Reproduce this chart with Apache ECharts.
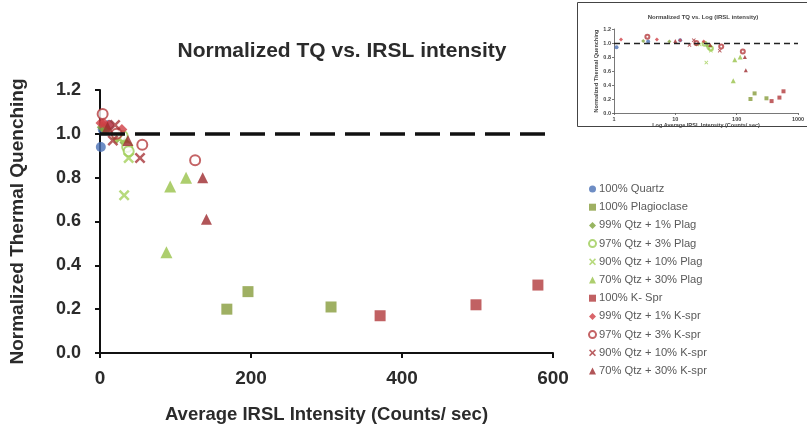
<!DOCTYPE html>
<html><head><meta charset="utf-8">
<script src="https://cdn.jsdelivr.net/npm/echarts@6/dist/echarts.min.js"></script>
<style>html,body{margin:0;padding:0;background:#fff}#c{width:807px;height:432px}</style>
</head><body><div id="c"></div>
<script>
// ---- data ----
const seriesNames = ["100% Quartz","100% Plagioclase","99% Qtz + 1% Plag","97% Qtz + 3% Plag","90% Qtz + 10% Plag","70% Qtz + 30% Plag","100% K- Spr","99% Qtz + 1% K-spr","97% Qtz + 3% K-spr","90% Qtz + 10% K-spr","70% Qtz + 30% K-spr"];
const quartz   = [[1.1,0.94],[3.6,1.02],[12,1.04]];
const plag     = [[168,0.20],[196,0.28],[306,0.21]];
const q99p1    = [[3,1.03],[8,1.02],[22,0.98],[33,0.96]];
const q97p3    = [[30,0.99],[36,0.94],[38,0.92]];
const q90p10   = [[25,0.98],[38,0.89],[32,0.72]];
const q70p30   = [[88,0.46],[93,0.76],[114,0.80]];
const kspr     = [[371,0.17],[498,0.22],[580,0.31]];
const q99k1    = [[1.3,1.05],[5,1.05],[12,1.04],[29,1.02]];
const q97k3    = [[3.5,1.09],[22,1.00],[56,0.95],[126,0.88]];
const q90k10   = [[20,1.04],[17,0.97],[53,0.89]];
const q70k30   = [[10,1.03],[37,0.97],[136,0.80],[141,0.61]];
const seriesData = [quartz,plag,q99p1,q97p3,q90p10,q70p30,kspr,q99k1,q97k3,q90k10,q70k30];
const xTicksMain = [0,200,400,600];
const yTicks = [0,0.2,0.4,0.6,0.8,1.0,1.2];
const xTicksLog = [1,10,100,1000];
const refLevel = 1.0;

// ---- styles ----
const X = 'path://M0,1.6L1.6,0L5,3.4L8.4,0L10,1.6L6.6,5L10,8.4L8.4,10L5,6.6L1.6,10L0,8.4L3.4,5Z';
const styles = [
  {symbol:'circle', color:'#4a70b5', size:10},
  {symbol:'rect', color:'#879c3c', size:11},
  {symbol:'diamond', color:'#7ea33a', size:11},
  {symbol:'emptyCircle', color:'#9ccc55', size:10, border:2},
  {symbol:X, color:'#a5d15c', size:11},
  {symbol:'triangle', color:'#98c24a', size:12},
  {symbol:'rect', color:'#b23a3c', size:11},
  {symbol:'diamond', color:'#cf3f45', size:11},
  {symbol:'emptyCircle', color:'#b53c3e', size:10, border:2},
  {symbol:X, color:'#a8363a', size:11},
  {symbol:'triangle', color:'#9e2a2e', size:11}
];

const series = [];
seriesData.forEach((d,i)=>{
  const s = styles[i];
  const empty = s.symbol==='emptyCircle';
  const is = empty ? {color:s.color, borderColor:s.color, borderWidth:s.border} : {color:s.color};
  series.push({name:seriesNames[i], type:'scatter', xAxisIndex:0, yAxisIndex:0, data:d, symbol:s.symbol, symbolSize:s.size, itemStyle:is, z:3});
  const is2 = empty ? {color:s.color, borderColor:s.color, borderWidth:0.8} : {color:s.color};
  series.push({name:seriesNames[i], type:'scatter', xAxisIndex:1, yAxisIndex:1, data:d, symbol:s.symbol, symbolSize:Math.round(s.size*0.4), itemStyle:is2, z:3});
});
series[0].markLine = {silent:true, symbol:'none', label:{show:false}, lineStyle:{color:'#111', width:3.5, type:[25,10]}, data:[{yAxis:refLevel}]};
series[1].markLine = {silent:true, symbol:'none', label:{show:false}, lineStyle:{color:'#222', width:1.3, type:[6,4]}, data:[{yAxis:refLevel}]};

const font = 'Arial, "Liberation Sans", sans-serif';
const chart = echarts.init(document.getElementById('c'));
chart.setOption({
  animation:false,
  title:[
    {text:'Normalized TQ vs. IRSL intensity', left:337, top:36, textAlign:'center', textStyle:{fontFamily:font, fontWeight:'bold', fontSize:21, color:'#2b2b2b'}},
    {text:'Normalized TQ vs. Log (IRSL intensity)', left:698, top:9, textAlign:'center', textStyle:{fontFamily:font, fontWeight:'bold', fontSize:6, color:'#444'}}
  ],
  legend:{
    data:seriesNames, orient:'vertical', left:583, top:177, itemWidth:7, itemHeight:7, itemGap:4.2,
    textStyle:{fontFamily:font, fontSize:11.2, color:'#5a5a5a', lineHeight:14, padding:[0,0,0,-2]},
    selectedMode:false
  },
  graphic:[{type:'rect', shape:{x:577.5, y:2.5, width:240, height:124}, style:{fill:'none', stroke:'#444', lineWidth:1}, z:-1}],
  grid:[
    {left:100, right:254, top:90, bottom:79, outerBoundsMode:'none', containLabel:false},
    {left:614, right:9, top:29, bottom:319, outerBoundsMode:'none', containLabel:false}
  ],
  xAxis:[
    {type:'value', gridIndex:0, min:xTicksMain[0], max:xTicksMain[xTicksMain.length-1], interval:200,
     name:'Average IRSL Intensity (Counts/ sec)', nameLocation:'middle', nameGap:52,
     nameTextStyle:{fontFamily:font, fontWeight:'bold', fontSize:18.5, color:'#2b2b2b'},
     axisLine:{lineStyle:{color:'#111', width:2}}, axisTick:{show:true, length:5, lineStyle:{color:'#111', width:2}},
     axisLabel:{fontFamily:font, fontWeight:'bold', fontSize:19, color:'#2b2b2b', margin:16}, splitLine:{show:false}},
    {type:'log', gridIndex:1, min:xTicksLog[0], max:xTicksLog[xTicksLog.length-1], logBase:10,
     name:'Log Average IRSL Intensity (Counts/ sec)', nameLocation:'middle', nameGap:5,
     nameTextStyle:{fontFamily:font, fontWeight:'bold', fontSize:5.5, color:'#444'},
     axisLine:{lineStyle:{color:'#555', width:0.8}}, axisTick:{show:true, length:2, lineStyle:{color:'#555', width:0.8}},
     axisLabel:{fontFamily:font, fontWeight:'bold', fontSize:5.5, color:'#444', margin:3, formatter:v=>String(Math.round(v))}, splitLine:{show:false}, minorTick:{show:false}}
  ],
  yAxis:[
    {type:'value', gridIndex:0, min:yTicks[0], max:yTicks[yTicks.length-1], interval:0.2,
     name:'Normalized Thermal Quenching', nameLocation:'middle', nameGap:73,
     nameTextStyle:{fontFamily:font, fontWeight:'bold', fontSize:19, color:'#2b2b2b'},
     axisLine:{show:true, lineStyle:{color:'#111', width:2}}, axisTick:{show:true, length:5, lineStyle:{color:'#111', width:2}},
     axisLabel:{fontFamily:font, fontWeight:'bold', fontSize:18, color:'#2b2b2b', margin:19, formatter:v=>v.toFixed(1)}, splitLine:{show:false}},
    {type:'value', gridIndex:1, min:yTicks[0], max:yTicks[yTicks.length-1], interval:0.2,
     name:'Normalized Thermal Quenching', nameLocation:'middle', nameGap:14,
     nameTextStyle:{fontFamily:font, fontWeight:'bold', fontSize:5.5, color:'#444'},
     axisLine:{show:true, lineStyle:{color:'#555', width:0.8}}, axisTick:{show:true, length:2, lineStyle:{color:'#555', width:0.8}},
     axisLabel:{fontFamily:font, fontWeight:'bold', fontSize:5.5, color:'#444', margin:3, formatter:v=>v.toFixed(1)}, splitLine:{show:false}}
  ],
  series:series
});
</script></body></html>
